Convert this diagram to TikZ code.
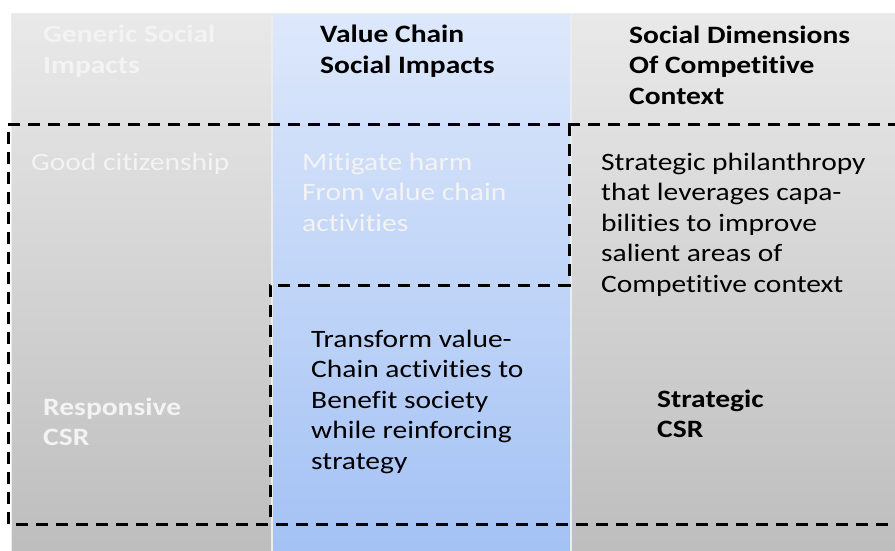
\documentclass[tikz,border=0pt]{standalone}
\usepackage{fontspec}
\setmainfont{Carlito}[FakeStretch=1.18, Ligatures={NoCommon}]
\usepackage{xcolor}

\definecolor{greytop}{HTML}{E9E9E9}
\definecolor{greybot}{HTML}{BDBDBD}
\definecolor{bluetop}{HTML}{DDE8FB}
\definecolor{bluebot}{HTML}{A3C1F4}
\definecolor{fainttext}{HTML}{F3F3F3}

\tikzset{
  column/.style={draw=white!85!gray, line width=1pt},
  label/.style={font=\fontsize{25}{30.5}\selectfont, align=left, anchor=base west, inner sep=0pt},
  heading/.style={label, font=\fontsize{25}{30.5}\selectfont\bfseries},
  border/.style={line width=3pt, dash pattern=on 12pt off 8pt},
}

\begin{document}
\begin{tikzpicture}[x=1pt,y=-1pt]
  \useasboundingbox (0,0) rectangle (895,551);

  % the three columns
  \shade[column, top color=greytop, bottom color=greybot] (11,14) rectangle (271,560);
  \shade[column, top color=bluetop, bottom color=bluebot] (272,14) rectangle (570,560);
  \shade[column, top color=greytop, bottom color=greybot] (571,14) rectangle (905,560);

  % column headings (placed at the baseline of their last line)
  \node (gen) at (43,73.5) [heading, text=fainttext] {Generic Social\\Impacts};
  \node (val) at (320,73.5) [heading] {Value Chain\\Social Impacts};
  \node (dim) at (629,104) [heading] {Social Dimensions\\Of Competitive\\Context};

  % cells
  \node (cit) at (31,170) [label, text=fainttext] {Good citizenship};
  \node (mit) at (302,231) [label, text=fainttext] {Mitigate harm\\From value chain\\activities};
  \node (phi) at (601,292) [label] {Strategic philanthropy\\that leverages capa-\\bilities to improve\\salient areas of\\Competitive context};
  \node (tra) at (311,469) [label] {Transform value-\\Chain activities to\\Benefit society\\while reinforcing\\strategy};
  \node (res) at (43,445.5) [heading, text=fainttext] {Responsive\\CSR};
  \node (str) at (657,437.5) [heading] {Strategic\\CSR};

  % corners of the two dashed regions
  \coordinate (tl) at (8,124);
  \coordinate (tr) at (900,124);
  \coordinate (bl) at (8,524);
  \coordinate (br) at (900,524);
  \coordinate (s1) at (569,124);
  \coordinate (s2) at (569,285);
  \coordinate (s3) at (270,285);
  \coordinate (s4) at (270,524);

  \draw[border] (tr) -- (tl) -- (bl) -- (br);
  \draw[border] (s1) -- (s2) -- (s3) -- (s4);
\end{tikzpicture}
\end{document}
